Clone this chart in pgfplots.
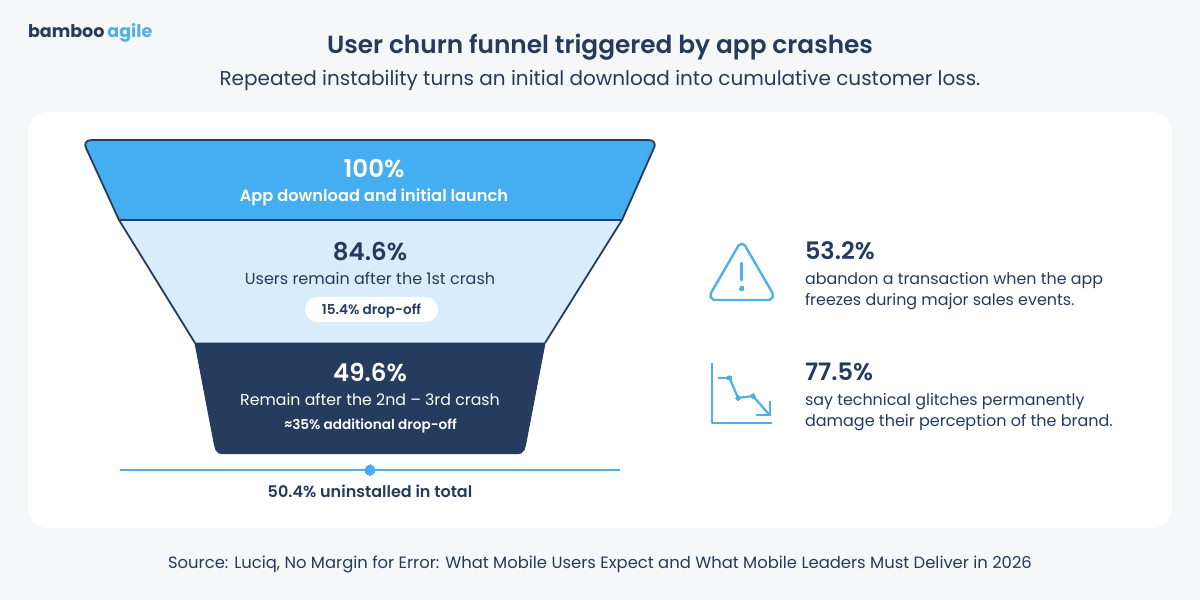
\documentclass[border=0pt]{standalone}
\usepackage{fontspec}
\usepackage{pgfplots}
\pgfplotsset{compat=1.18}
\setmainfont{Poppins}
\newfontfamily\fR{Poppins}
\newfontfamily\fS{Poppins SemiBold}
\newfontfamily\fM{Poppins Medium}
\newfontfamily\fB{Poppins Bold}
\newcommand{\fs}[1]{\fontsize{#1bp}{#1bp}\selectfont}
\definecolor{bg}{HTML}{F5F7F9}
\definecolor{navy}{HTML}{263C5E}
\definecolor{ink}{HTML}{263A5C}
\definecolor{bluetop}{HTML}{45AEF0}
\definecolor{bluelight}{HTML}{D9ECFB}
\definecolor{accent}{HTML}{4FB0E8}
\tikzset{tx/.style={inner sep=0pt, outer sep=0pt, text=ink}, txw/.style={inner sep=0pt, outer sep=0pt, text=white}}
\begin{document}
\begin{tikzpicture}
\begin{axis}[
  at={(0,0)}, anchor=south west, scale only axis, width=1200bp, height=600bp,
  xmin=0, xmax=1200, ymin=0, ymax=600, y dir=reverse, hide axis, clip=false
]
\addplot[fill=bg, draw=none] coordinates {(0,0)(1200,0)(1200,600)(0,600)} --cycle;
\fill[white, rounded corners=20bp] (axis cs:28,112) rectangle (axis cs:1172,528);

% funnel
\addplot[fill=bluetop, draw=navy, line width=1.8bp, line join=round] coordinates {
 (119,220)(86.5,149)(85.2,145.5)(85.8,142.5)(88,140.6)(92,140)
 (648,140)(652,140.6)(654.2,142.5)(654.8,145.5)(653.5,149)(622,220)} --cycle;
\addplot[fill=bluelight, draw=none] coordinates {(119,220)(622,220)(545,343)(195,343)} --cycle;
\addplot[draw=navy, line width=1.8bp] coordinates {(119,220)(195,343)};
\addplot[draw=navy, line width=1.8bp] coordinates {(622,220)(545,343)};
\addplot[draw=navy, line width=1.8bp] coordinates {(119,220)(622,220)};
\addplot[fill=navy, draw=navy, line width=1bp, line join=round] coordinates {
 (195,343)(545,343)(525.5,445)(524,450)(521,453)(517,453.7)
 (223,453.7)(219,453)(216,450)(214.5,445)} --cycle;
\fill[white, rounded corners=12.5bp] (axis cs:305,297) rectangle (axis cs:438,322);

% total line
\addplot[draw=accent, line width=2bp] coordinates {(120,470)(620,470)};
\addplot[only marks, mark=*, mark size=5.2bp, mark options={fill=bluetop, draw=bluetop, line width=0pt}] coordinates {(370,470)};

% warning icon
\addplot[draw=accent, line width=2.4bp, line join=round, line cap=round] coordinates {
 (738.5,245.5)(741.7,243.7)(745,245.5)(772.5,293)(773,297)(769.5,300)
 (714,300)(710.5,297)(711,293)} --cycle;
\addplot[draw=accent, line width=2.6bp, line cap=round] coordinates {(741.6,263)(741.6,280)};
\addplot[only marks, mark=*, mark size=2.2bp, mark options={fill=accent, draw=accent, line width=0pt}] coordinates {(741.6,288.5)};
% decline icon
\addplot[draw=accent, line width=2.2bp, line join=round] coordinates {(712,362.5)(712,423.3)(772,423.3)};
\addplot[draw=accent, line width=2.2bp, line join=round] coordinates {(718,378)(729.5,378)(738,398)(753,396)(769.5,415)};
\addplot[draw=accent, line width=2.2bp, line join=miter] coordinates {(756,415)(769.7,415)(769.7,401)};
\addplot[only marks, mark=*, mark size=2.2bp, mark options={fill=accent, draw=accent, line width=0pt}] coordinates {(729.5,378)(738,398)(753,396)};

% texts
\node[tx, anchor=base west] at (axis cs:28,38) {\fB\fs{17.5}bamboo\hspace{3bp}\textcolor{accent}{agile}};
\node[tx, anchor=base] at (axis cs:600,53.5) {\fS\fs{24.8}User churn funnel triggered by app crashes};
\node[tx, anchor=base] at (axis cs:600,85.5) {\fR\fs{20}Repeated instability turns an initial download into cumulative customer loss.};

\node[txw, anchor=base] at (axis cs:374,177.5) {\fS\fs{24.5}100\%};
\node[txw, anchor=base] at (axis cs:374,201.6) {\fS\fs{16.25}App download and initial launch};
\node[tx, anchor=base] at (axis cs:370,260.5) {\fS\fs{24.5}84.6\%};
\node[tx, anchor=base] at (axis cs:370,284.7) {\fR\fs{16}Users remain after the 1st crash};
\node[tx, anchor=base] at (axis cs:371.5,314.5) {\fS\fs{13.6}15.4\% drop-off};
\node[txw, anchor=base] at (axis cs:370,381.5) {\fS\fs{24.5}49.6\%};
\node[txw, anchor=base] at (axis cs:370,405) {\fR\fs{15.8}Remain after the 2nd – 3rd crash};
\node[txw, anchor=base] at (axis cs:370.5,429) {\fS\fs{13.6}≈35\% additional drop-off};
\node[tx, anchor=base] at (axis cs:370,497) {\fS\fs{16}50.4\% uninstalled in total};

\node[tx, anchor=base west] at (axis cs:805,259.5) {\fS\fs{24}53.2\%};
\node[tx, anchor=base west] at (axis cs:805,284.7) {\fR\fs{15.9}abandon a transaction when the app};
\node[tx, anchor=base west] at (axis cs:805,305.7) {\fR\fs{15.9}freezes during major sales events.};
\node[tx, anchor=base west] at (axis cs:805,380.5) {\fS\fs{24}77.5\%};
\node[tx, anchor=base west] at (axis cs:805,405) {\fR\fs{15.9}say technical glitches permanently};
\node[tx, anchor=base west] at (axis cs:805,426) {\fR\fs{16}damage their perception of the brand.};

\node[tx, anchor=base] at (axis cs:600,568) {\fR\fs{16.4}Source: Luciq, No Margin for Error: What Mobile Users Expect and What Mobile Leaders Must Deliver in 2026};
\end{axis}
\end{tikzpicture}
\end{document}
